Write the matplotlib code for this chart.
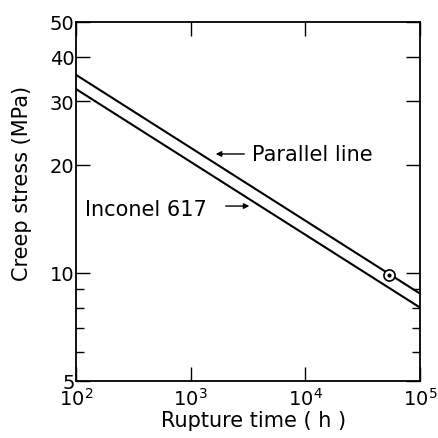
import matplotlib
matplotlib.use("Agg")
import matplotlib.pyplot as plt

plt.rcParams['font.family'] = ['DejaVu Sans']
plt.rcParams['mathtext.fontset'] = 'dejavusans'

# データ
time_h = [1e2, 1e5]
parallel_line = [35.6, 8.75]
inconel_617 = [32.5, 8.0]
point_time = [5.4e4]
point_stress = [9.85]

y_major = [5, 10, 20, 30, 40, 50]
y_minor = [6, 7, 8, 9]
x_major = [1e2, 1e3, 1e4, 1e5]

fig = plt.figure(figsize=(4.39, 4.39), dpi=100)
ax = fig.add_axes([0.173, 0.130, 0.784, 0.818])

ax.plot(time_h, parallel_line, color='black', lw=1.5)
ax.plot(time_h, inconel_617, color='black', lw=1.5)
ax.plot(point_time, point_stress, 'o', mfc='white', mec='black', ms=8, mew=1.2)
ax.plot(point_time, point_stress, 'o', color='black', ms=2)

ax.set_xscale('log')
ax.set_yscale('log')
ax.set_xlim(1e2, 1e5)
ax.set_ylim(5, 50)

ax.set_xticks(x_major)
ax.set_xticklabels([r'$10^{2}$', r'$10^{3}$', r'$10^{4}$', r'$10^{5}$'])
ax.xaxis.set_minor_locator(matplotlib.ticker.NullLocator())
ax.set_yticks(y_major)
ax.set_yticklabels([str(v) for v in y_major])
ax.set_yticks(y_minor, minor=True)
ax.yaxis.set_minor_formatter(matplotlib.ticker.NullFormatter())

ax.tick_params(which='both', direction='in', top=True, right=True, labelsize=14, width=1)
ax.tick_params(which='major', length=10)
ax.tick_params(which='minor', length=6)
ax.tick_params(axis='y', pad=1)
ax.tick_params(axis='x', pad=4)
for s in ax.spines.values():
    s.set_linewidth(1.3)

ax.set_xlabel('Rupture time ( h )', fontsize=15)
ax.set_ylabel('Creep stress (MPa)', fontsize=15)
ax.xaxis.set_label_coords(0.515, -0.08)
ax.yaxis.set_label_coords(-0.127, 0.552)

ax.annotate('', xy=(0.398, 0.632), xytext=(0.497, 0.632), xycoords='axes fraction',
            arrowprops=dict(arrowstyle='-|>', color='black', lw=1, mutation_scale=8))
ax.text(0.512, 0.632, 'Parallel line', transform=ax.transAxes, fontsize=15,
        va='center', ha='left')
ax.annotate('', xy=(0.512, 0.487), xytext=(0.427, 0.487), xycoords='axes fraction',
            arrowprops=dict(arrowstyle='-|>', color='black', lw=1, mutation_scale=8))
ax.text(0.380, 0.479, 'Inconel 617', transform=ax.transAxes, fontsize=15,
        va='center', ha='right')

plt.savefig('out.png', dpi=100)
